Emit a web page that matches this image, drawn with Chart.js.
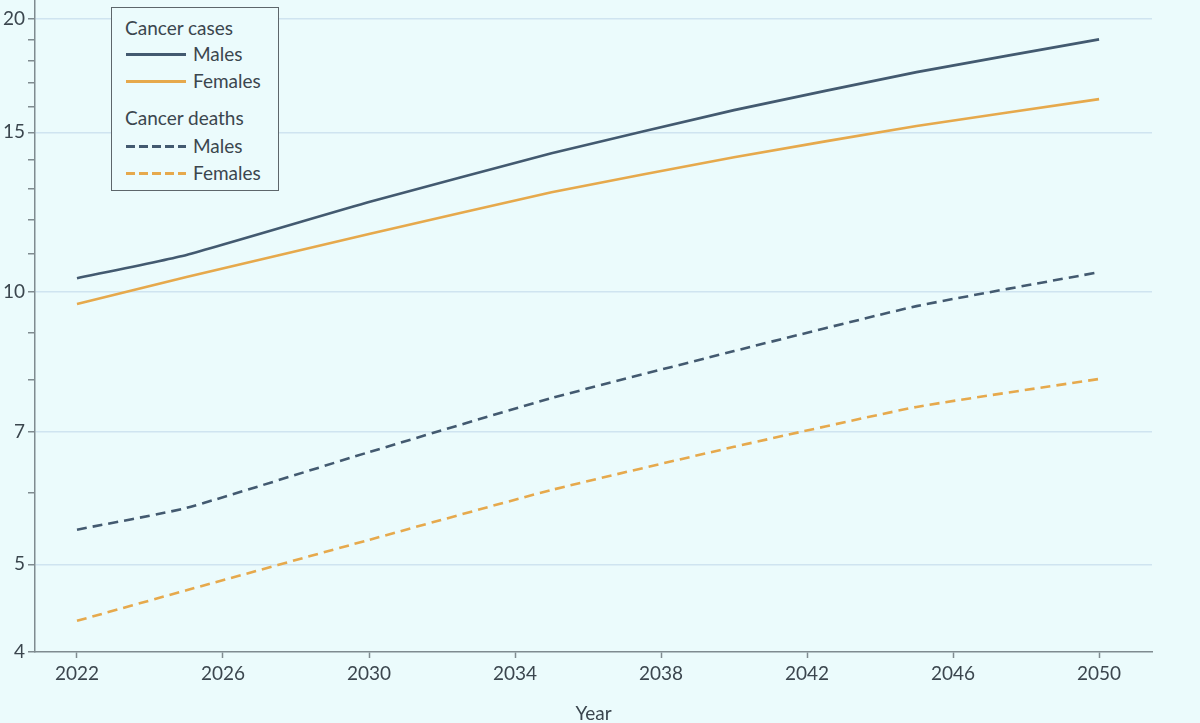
<!DOCTYPE html>
<html lang="en">
<head>
<meta charset="UTF-8">
<title>Projected cancer cases and deaths</title>
<script src="https://cdn.jsdelivr.net/npm/chart.js"></script>
<style>
  html, body { margin: 0; padding: 0; background: #ebfbfc; }
  .wrap { position: relative; width: 1200px; height: 723px; }
  canvas { display: block; }
  .legend {
    position: absolute; left: 111px; top: 7px; width: 168px; height: 184px;
    box-sizing: border-box; border: 1.5px solid #5d666b; background: #ebfbfc;
    font-family: Lato, "Liberation Sans", sans-serif; font-size: 19px; color: #3b464e;
  }
  .legend div { position: absolute; line-height: 22px; white-space: nowrap; }
  .legend .sw { position: absolute; width: 60px; height: 3px; }
</style>
</head>
<body>
<div class="wrap">
  <canvas id="chart" width="1200" height="723"></canvas>
  <div class="legend" id="legend"></div>
</div>
<script>
  // valores (millones)
  const years = [2022, 2025, 2030, 2035, 2040, 2045, 2050];
  const casesMales = [10.35, 10.98, 12.56, 14.22, 15.87, 17.48, 19.0];
  const casesFemales = [9.69, 10.38, 11.58, 12.88, 14.08, 15.24, 16.32];
  const deathsMales = [5.46, 5.77, 6.65, 7.63, 8.60, 9.64, 10.51];
  const deathsFemales = [4.33, 4.68, 5.32, 6.04, 6.74, 7.46, 8.01];

  const xTicks = [2022, 2026, 2030, 2034, 2038, 2042, 2046, 2050];
  const yTicks = [4, 5, 6, 7, 8, 9, 10, 11, 12, 13, 14, 15, 16, 17, 18, 19, 20];
  const yLabels = [4, 5, 7, 10, 15, 20];

  const colMale = '#435a70';
  const colFemale = '#e6a94c';
  const axisCol = '#7f8b90';
  const textCol = '#3b464e';
  const font = { family: 'Lato, "Liberation Sans", sans-serif', size: 19 };

  function pts(vals) {
    return years.map((y, i) => ({ x: y, y: vals[i] }));
  }

  function serie(label, vals, color, dashed) {
    return {
      label: label,
      data: pts(vals),
      borderColor: color,
      borderWidth: 2.6,
      borderDash: dashed ? [10, 6] : [],
      pointRadius: 0,
      fill: false,
      tension: 0.15
    };
  }

  new Chart(document.getElementById('chart'), {
    type: 'line',
    data: {
      datasets: [
        serie('Cancer cases - Males', casesMales, colMale, false),
        serie('Cancer cases - Females', casesFemales, colFemale, false),
        serie('Cancer deaths - Males', deathsMales, colMale, true),
        serie('Cancer deaths - Females', deathsFemales, colFemale, true)
      ]
    },
    options: {
      responsive: false,
      animation: false,
      layout: { padding: { left: 0, top: 0, right: 48, bottom: 0 } },
      plugins: { legend: { display: false }, tooltip: { enabled: false } },
      scales: {
        x: {
          type: 'linear',
          min: 2020.85,
          max: 2051.45,
          afterBuildTicks: s => { s.ticks = xTicks.map(v => ({ value: v })); },
          afterFit: s => { s.height = 71; s.paddingLeft = 0; s.paddingRight = 0; },
          ticks: { callback: v => String(v), color: textCol, font: font, padding: 4, maxRotation: 0, autoSkip: false },
          grid: { drawOnChartArea: false, tickColor: axisCol, tickLength: 6, tickWidth: 1.5 },
          border: { color: axisCol, width: 1.5 },
          title: { display: true, text: 'Year', color: textCol, font: Object.assign({ lineHeight: 1 }, font), padding: { top: 0, bottom: 0 } }
        },
        y: {
          type: 'logarithmic',
          min: 4,
          max: 21,
          afterBuildTicks: s => { s.ticks = yTicks.map(v => ({ value: v })); },
          afterFit: s => { s.width = 35; s.paddingTop = 0; s.paddingBottom = 0; },
          ticks: {
            callback: v => yLabels.includes(v) ? String(v) : '',
            color: textCol, font: font, padding: 3, autoSkip: false
          },
          grid: {
            color: c => (c.tick && yLabels.includes(c.tick.value) && c.tick.value !== 4) ? '#cfe4f0' : 'rgba(0,0,0,0)',
            lineWidth: 1.5,
            tickColor: axisCol,
            tickLength: 7,
            tickWidth: 1.5
          },
          border: { color: axisCol, width: 1.5 }
        }
      }
    }
  });

  // leyenda agrupada (cabecera + lineas)
  const legendRows = [
    { head: 'Cancer cases', y: 20 },
    { text: 'Males', color: colMale, dashed: false, y: 46 },
    { text: 'Females', color: colFemale, dashed: false, y: 73 },
    { head: 'Cancer deaths', y: 110 },
    { text: 'Males', color: colMale, dashed: true, y: 138 },
    { text: 'Females', color: colFemale, dashed: true, y: 165 }
  ];
  const leg = document.getElementById('legend');
  legendRows.forEach(r => {
    if (r.head) {
      const d = document.createElement('div');
      d.textContent = r.head;
      d.style.left = '13px';
      d.style.top = (r.y - 11) + 'px';
      leg.appendChild(d);
      return;
    }
    const sw = document.createElement('span');
    sw.className = 'sw';
    sw.style.left = '14px';
    sw.style.top = (r.y - 1.5) + 'px';
    sw.style.background = r.dashed
      ? 'repeating-linear-gradient(90deg, ' + r.color + ' 0 9px, transparent 9px 13px)'
      : r.color;
    leg.appendChild(sw);
    const t = document.createElement('div');
    t.textContent = r.text;
    t.style.left = '81px';
    t.style.top = (r.y - 11) + 'px';
    leg.appendChild(t);
  });
</script>
</body>
</html>
